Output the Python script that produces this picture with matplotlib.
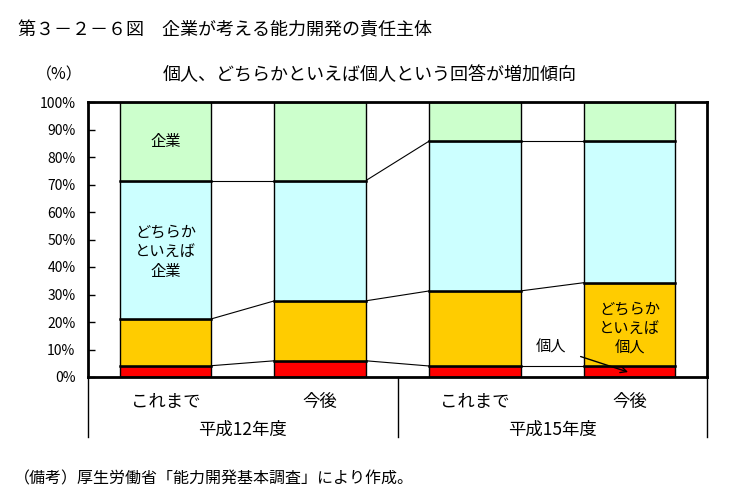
import matplotlib
matplotlib.use("Agg")
import matplotlib.pyplot as plt
import numpy as np

plt.rcParams['font.family'] = ['Noto Sans CJK JP', 'DejaVu Sans']

bars = ["これまで", "今後", "これまで", "今後"]
groups = ["平成12年度", "平成15年度"]
kojin = [4.1, 5.9, 4.0, 4.0]
dochira_kojin = [17.0, 21.8, 27.3, 30.3]
dochira_kigyo = [50.3, 43.7, 54.5, 51.5]
kigyo = [28.6, 28.6, 14.2, 14.2]
yticks = [0, 10, 20, 30, 40, 50, 60, 70, 80, 90, 100]

series = [kojin, dochira_kojin, dochira_kigyo, kigyo]
colors = ["#FF0000", "#FFCC00", "#CCFFFF", "#CCFFCC"]

fig = plt.figure(figsize=(7.34, 4.98), dpi=100)
ax = fig.add_axes([88/734, 1-377/498, (707-88)/734, (377-102)/498])

x = np.arange(len(bars))
w = 0.59
bottom = np.zeros(len(bars))
cums = []
for vals, c in zip(series, colors):
    v = np.array(vals)
    ax.bar(x, v, w, bottom=bottom, color=c, edgecolor="black", linewidth=1.0, zorder=2)
    bottom = bottom + v
    cums.append(bottom.copy())

# boundary lines (thicker) and connectors
for cum in cums[:-1]:
    for i in range(len(bars)):
        ax.plot([i - w/2, i + w/2], [cum[i], cum[i]], color="black", lw=1.8, zorder=3)
    for i in range(len(bars) - 1):
        ax.plot([i + w/2, i + 1 - w/2], [cum[i], cum[i+1]], color="black", lw=0.8, zorder=1)

ax.set_xlim(-0.5, len(bars) - 0.5)
ax.set_ylim(0, 100)
ax.set_yticks(yticks)
ax.set_yticklabels([f"{t}%" for t in yticks], fontsize=10)
ax.tick_params(axis='y', direction='in', length=5, width=1, pad=9)
ax.set_xticks([])
for s in ax.spines.values():
    s.set_linewidth(2)
    s.set_color("black")

# category labels
trans = ax.get_xaxis_transform()
for i, lab in enumerate(bars):
    ax.text(i, -0.09, lab, transform=trans, ha='center', va='center', fontsize=12.5)
for g, lab in enumerate(groups):
    ax.text(g*2 + 0.5, -0.19, lab, transform=trans, ha='center', va='center', fontsize=12.5)
for xa in [0, 0.5, 1.0]:
    ax.plot([xa, xa], [0, -60/275], transform=ax.transAxes, color="black", lw=1, clip_on=False)

# in-bar labels
ax.text(0, 85.5, "企業", ha='center', va='center', fontsize=11, zorder=4)
ax.text(0, 45.5, "どちらか\nといえば\n企業", ha='center', va='center', fontsize=11, linespacing=1.2, zorder=4)
ax.text(3, 17.5, "どちらか\nといえば\n個人", ha='center', va='center', fontsize=11, linespacing=1.2, zorder=4)
ax.annotate("個人", xy=(2.99, 1.8), xytext=(2.49, 11.0), ha='center', va='center', fontsize=11,
            arrowprops=dict(arrowstyle='->', color='black', lw=1, shrinkA=9, shrinkB=0), zorder=5)

fig.text(18/734, 1-30/498, "第３－２－６図　企業が考える能力開発の責任主体", ha='left', va='center', fontsize=13)
fig.text(36/734, 1-75/498, "（%）", ha='left', va='center', fontsize=11.5)
fig.text(370/734, 1-75/498, "個人、どちらかといえば個人という回答が増加傾向", ha='center', va='center', fontsize=13)
fig.text(14/734, 1-479/498, "（備考）厚生労働省「能力開発基本調査」により作成。", ha='left', va='center', fontsize=11.5)

fig.savefig("out.png", dpi=100)
